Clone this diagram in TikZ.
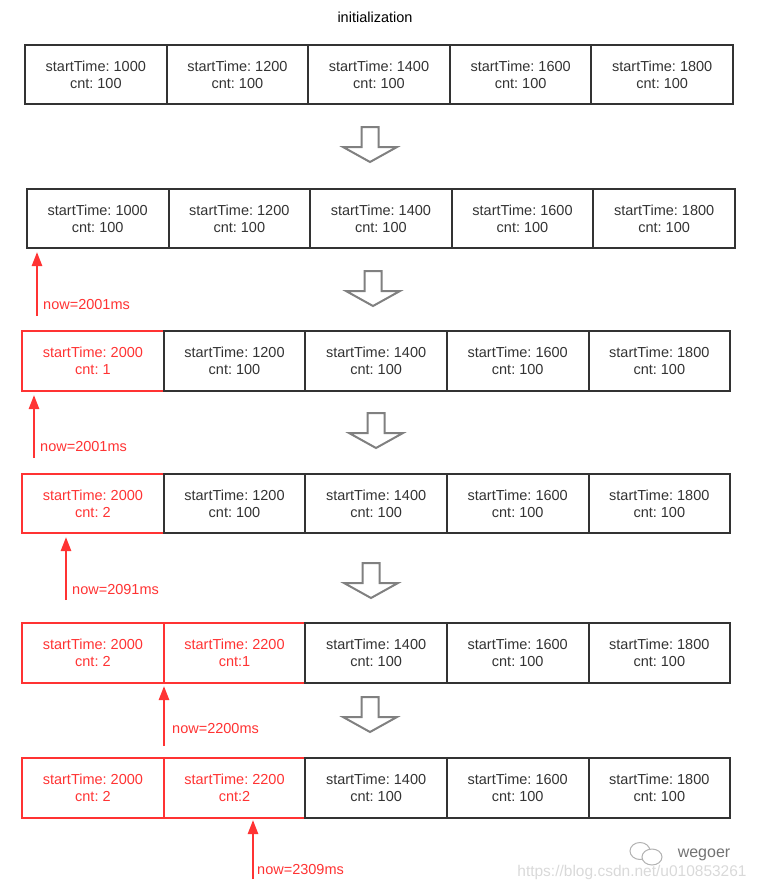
\documentclass[tikz,border=0pt]{standalone}
\usepackage{fontspec}
\setmainfont{Liberation Sans}
\usepackage{xcolor}
\usepackage{tikz}
\usetikzlibrary{arrows.meta,positioning}
\frenchspacing
\definecolor{hotred}{RGB}{255,51,51}
\definecolor{ink}{RGB}{51,51,51}
\definecolor{arrowgray}{RGB}{128,128,128}
\newcommand{\txt}{\fontsize{14.5}{17}\selectfont}
\tikzset{
  cell/.style={draw=ink,line width=2pt,minimum width=141.6pt,minimum height=59.5pt,inner sep=0pt,outer sep=0pt,align=center,text=ink,font=\txt},
  hot/.style={cell,draw=hotred,text=hotred},
  nowlbl/.style={right,inner sep=0pt,text=hotred,font=\txt},
  nowarrow/.style={draw=hotred,line width=2.5pt,-{Triangle[length=14pt,width=10pt]}},
  bigdown/.pic={\draw[draw=arrowgray,line width=2pt,line join=miter] (-8.5,0)--(-8.5,20)--(-27,20)--(0,35)--(27,20)--(8.5,20)--(8.5,0)--cycle;}
}

\begin{document}
\begin{tikzpicture}[x=1pt,y=-1pt]
\useasboundingbox (0,0) rectangle (759,889);
\node[font=\txt] (title) at (375,17) {initialization};
% initial window
\node[cell] (a1) at (95.8,74.5) {startTime: 1000\\cnt: 100}; \node[cell,right=0pt of a1] (a2) {startTime: 1200\\cnt: 100};
\node[cell,right=0pt of a2] (a3) {startTime: 1400\\cnt: 100}; \node[cell,right=0pt of a3] (a4) {startTime: 1600\\cnt: 100};
\node[cell,right=0pt of a4] (a5) {startTime: 1800\\cnt: 100};
\pic at (370,127) {bigdown};
% step 1
\node[cell] (b1) at (97.7,218.5) {startTime: 1000\\cnt: 100}; \node[cell,right=0pt of b1] (b2) {startTime: 1200\\cnt: 100};
\node[cell,right=0pt of b2] (b3) {startTime: 1400\\cnt: 100}; \node[cell,right=0pt of b3] (b4) {startTime: 1600\\cnt: 100};
\node[cell,right=0pt of b4] (b5) {startTime: 1800\\cnt: 100};
\coordinate (tipb) at (37,252); \coordinate (tailb) at (37,316); \draw[nowarrow] (tailb) -- (tipb);
\node[nowlbl] (nowb) at (43,305) {now=2001ms};
\pic at (373,271) {bigdown};
% step 2
\node[hot] (c1) at (92.9,361) {startTime: 2000\\cnt: 1}; \node[cell,right=0pt of c1] (c2) {startTime: 1200\\cnt: 100};
\node[cell,right=0pt of c2] (c3) {startTime: 1400\\cnt: 100}; \node[cell,right=0pt of c3] (c4) {startTime: 1600\\cnt: 100};
\node[cell,right=0pt of c4] (c5) {startTime: 1800\\cnt: 100};
\coordinate (tipc) at (34,395); \coordinate (tailc) at (34,458); \draw[nowarrow] (tailc) -- (tipc);
\node[nowlbl] (nowc) at (40,447) {now=2001ms};
\pic at (376,413) {bigdown};
% step 3
\node[hot] (d1) at (92.9,503.5) {startTime: 2000\\cnt: 2}; \node[cell,right=0pt of d1] (d2) {startTime: 1200\\cnt: 100};
\node[cell,right=0pt of d2] (d3) {startTime: 1400\\cnt: 100}; \node[cell,right=0pt of d3] (d4) {startTime: 1600\\cnt: 100};
\node[cell,right=0pt of d4] (d5) {startTime: 1800\\cnt: 100};
\coordinate (tipd) at (66,537); \coordinate (taild) at (66,600); \draw[nowarrow] (taild) -- (tipd);
\node[nowlbl] (nowd) at (72,590) {now=2091ms};
\pic at (371,563) {bigdown};
% step 4
\node[hot] (e1) at (92.9,653) {startTime: 2000\\cnt: 2}; \node[hot,right=0pt of e1] (e2) {startTime: 2200\\cnt:1};
\node[cell,right=0pt of e2] (e3) {startTime: 1400\\cnt: 100}; \node[cell,right=0pt of e3] (e4) {startTime: 1600\\cnt: 100};
\node[cell,right=0pt of e4] (e5) {startTime: 1800\\cnt: 100};
\coordinate (tipe) at (164,686); \coordinate (taile) at (164,746); \draw[nowarrow] (taile) -- (tipe);
\node[nowlbl] (nowe) at (172,728) {now=2200ms};
\pic at (370,697) {bigdown};
% step 5
\node[hot] (f1) at (92.9,788) {startTime: 2000\\cnt: 2}; \node[hot,right=0pt of f1] (f2) {startTime: 2200\\cnt:2};
\node[cell,right=0pt of f2] (f3) {startTime: 1400\\cnt: 100}; \node[cell,right=0pt of f3] (f4) {startTime: 1600\\cnt: 100};
\node[cell,right=0pt of f4] (f5) {startTime: 1800\\cnt: 100};
\coordinate (tipf) at (253,820); \coordinate (tailf) at (253,879); \draw[nowarrow] (tailf) -- (tipf);
\node[nowlbl] (nowf) at (257,869) {now=2309ms};
% watermark
\draw[black!30,line width=1pt] (640,851) ellipse (10 and 8.5); \draw[black!30,line width=1pt,fill=white] (652,857) ellipse (10 and 8);
\node[text=black!15,font=\fontsize{15.5}{17}\selectfont] (url) at (632,872) {https://blog.csdn.net/u010853261};
\node[text=black!55,font=\fontsize{16}{18}\selectfont] (brand) at (704,855) {wegoer};
\end{tikzpicture}
\end{document}
